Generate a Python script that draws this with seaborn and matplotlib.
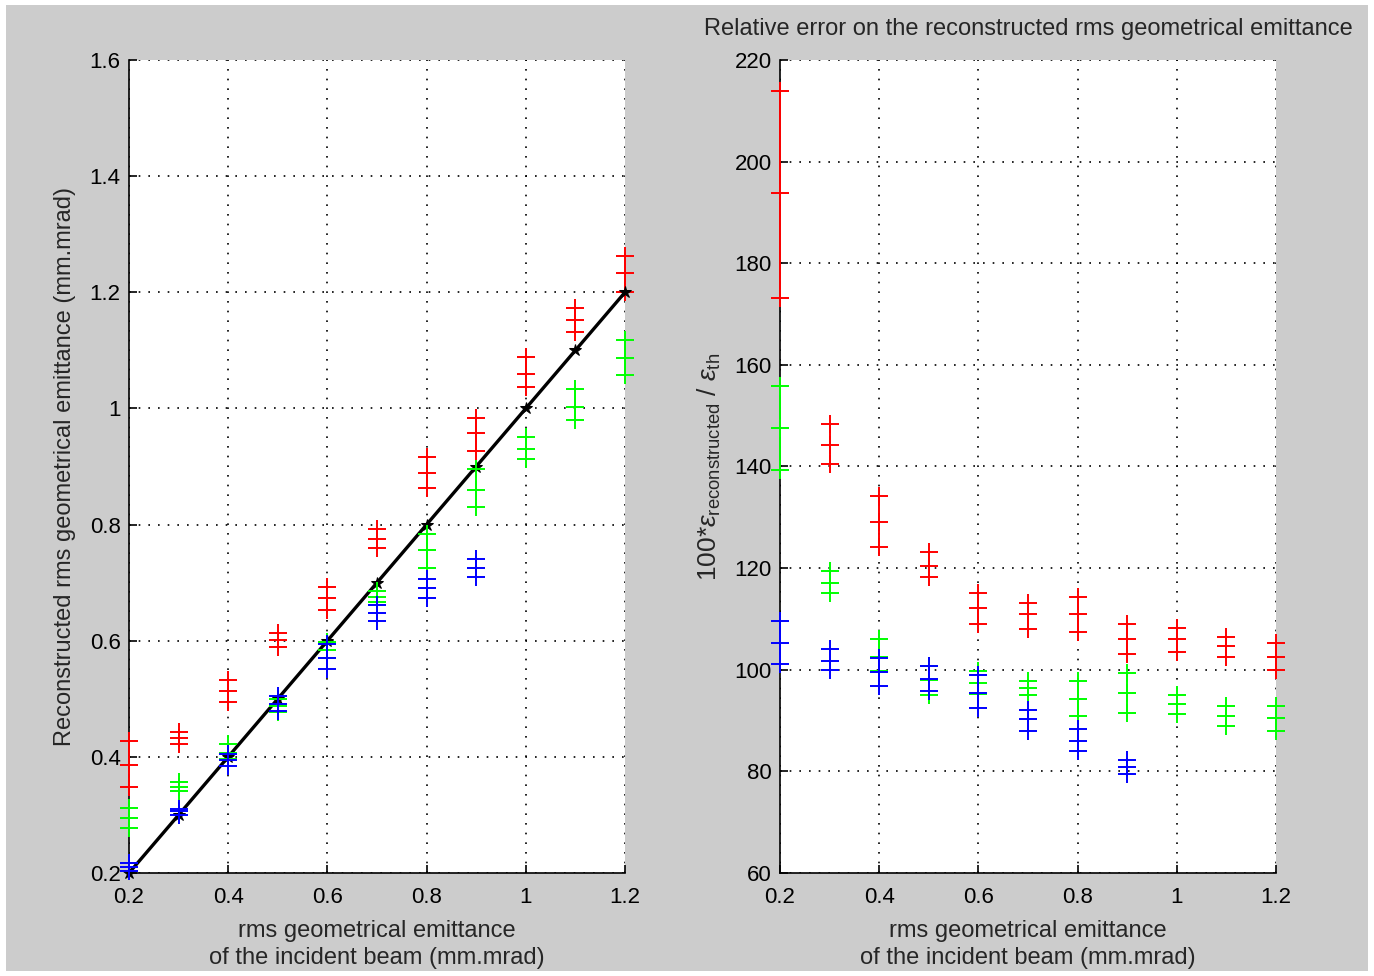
import numpy as np
import pandas as pd
import matplotlib.pyplot as plt
from matplotlib.patches import Rectangle
from matplotlib.ticker import FuncFormatter
import seaborn as sns

sns.set_style('white')
plt.rcParams['font.family'] = ['Liberation Sans', 'DejaVu Sans']
plt.rcParams['mathtext.fontset'] = 'custom'
plt.rcParams['mathtext.rm'] = 'Liberation Sans'
plt.rcParams['mathtext.it'] = 'Liberation Sans:italic'

# incident beam rms emittance (mm.mrad)
x_all = [0.2, 0.3, 0.4, 0.5, 0.6, 0.7, 0.8, 0.9, 1.0, 1.1, 1.2]
x_blue = [0.2, 0.3, 0.4, 0.5, 0.6, 0.7, 0.8, 0.9]

# reconstructed emittance (low / mid / high)
red_lo = [0.348, 0.422, 0.494, 0.590, 0.653, 0.759, 0.863, 0.927, 1.037, 1.132, 1.200]
red_mid = [0.386, 0.432, 0.513, 0.601, 0.673, 0.776, 0.889, 0.957, 1.060, 1.153, 1.233]
red_hi = [0.428, 0.442, 0.533, 0.613, 0.692, 0.793, 0.916, 0.984, 1.088, 1.173, 1.263]
green_lo = [0.277, 0.341, 0.396, 0.477, 0.571, 0.666, 0.726, 0.830, 0.913, 0.980, 1.057]
green_mid = [0.295, 0.348, 0.407, 0.488, 0.584, 0.676, 0.756, 0.860, 0.930, 1.003, 1.087]
green_hi = [0.312, 0.356, 0.422, 0.500, 0.597, 0.686, 0.784, 0.895, 0.951, 1.033, 1.117]
blue_lo = [0.204, 0.300, 0.384, 0.479, 0.552, 0.634, 0.674, 0.709]
blue_mid = [0.211, 0.306, 0.394, 0.491, 0.571, 0.648, 0.690, 0.726]
blue_hi = [0.218, 0.311, 0.405, 0.505, 0.594, 0.662, 0.706, 0.740]

# relative error (%)
rel_red_lo = [173.2, 140.4, 124.2, 118.2, 109.0, 108.0, 107.5, 103.1, 103.4, 102.6, 100.0]
rel_red_mid = [193.8, 144.2, 129.1, 120.4, 112.1, 110.9, 110.9, 106.0, 106.0, 104.6, 102.6]
rel_red_hi = [213.9, 148.4, 134.1, 123.2, 115.1, 113.2, 114.3, 109.1, 108.3, 106.4, 105.2]
rel_green_lo = [139.3, 115.1, 99.7, 95.1, 95.3, 95.1, 90.9, 91.4, 91.3, 88.9, 88.0]
rel_green_mid = [147.6, 117.0, 102.5, 97.9, 97.4, 96.5, 94.3, 95.4, 93.2, 90.9, 90.6]
rel_green_hi = [155.9, 119.4, 106.0, 100.8, 99.7, 97.8, 97.8, 99.3, 95.1, 92.8, 92.8]
rel_blue_lo = [101.2, 100.0, 96.9, 95.8, 92.5, 88.0, 84.1, 79.4]
rel_blue_mid = [105.3, 101.8, 99.6, 98.1, 95.4, 90.3, 86.0, 80.8]
rel_blue_hi = [109.5, 104.1, 102.3, 100.7, 98.9, 92.1, 88.3, 82.2]

left_yticks = [0.2, 0.4, 0.6, 0.8, 1.0, 1.2, 1.4, 1.6]
right_yticks = [60, 80, 100, 120, 140, 160, 180, 200, 220]
xticks = [0.2, 0.4, 0.6, 0.8, 1.0, 1.2]

FS = 17
TS = 16
fig = plt.figure(figsize=(13.74, 9.76), dpi=100, facecolor='white')
fig.patches.append(Rectangle((6 / 1374, 5 / 976), 1362 / 1374, 966 / 976,
                             transform=fig.transFigure, facecolor='#cccccc',
                             edgecolor='none', zorder=-10))

ax1 = fig.add_axes([129 / 1374, 1 - 873 / 976, 496 / 1374, 813 / 976])
ax2 = fig.add_axes([780 / 1374, 1 - 873 / 976, 496 / 1374, 813 / 976])


def draw_series(ax, x, lo, mid, hi, color, z):
    df = pd.DataFrame({'x': list(x) * 3, 'y': list(lo) + list(mid) + list(hi)})
    ax.vlines(x, lo, hi, color=color, lw=1.4, zorder=z, clip_on=False)
    sns.scatterplot(data=df, x='x', y='y', marker='+', s=150, color=color,
                    linewidth=1.4, ax=ax, zorder=z, legend=False, clip_on=False)


# left panel
draw_series(ax1, x_all, red_lo, red_mid, red_hi, '#ff0000', 3)
sns.lineplot(x=x_all, y=x_all, color='black', lw=2.4, marker='*', markersize=9,
             markeredgecolor='black', ax=ax1, zorder=4, clip_on=False)
draw_series(ax1, x_all, green_lo, green_mid, green_hi, '#00ff00', 5)
draw_series(ax1, x_blue, blue_lo, blue_mid, blue_hi, '#0000ff', 6)
ax1.set_ylim(0.2, 1.6)
ax1.set_yticks(left_yticks)
ax1.set_ylabel('Reconstructed rms geometrical emittance (mm.mrad)', fontsize=FS, labelpad=10)

# right panel
draw_series(ax2, x_all, rel_red_lo, rel_red_mid, rel_red_hi, '#ff0000', 3)
draw_series(ax2, x_all, rel_green_lo, rel_green_mid, rel_green_hi, '#00ff00', 4)
draw_series(ax2, x_blue, rel_blue_lo, rel_blue_mid, rel_blue_hi, '#0000ff', 5)
ax2.set_ylim(60, 220)
ax2.set_yticks(right_yticks)
ax2.set_ylabel(r'100*$\epsilon_{\rm reconstructed}$ / $\epsilon_{\rm th}$', fontsize=19, labelpad=8)
ax2.set_title('Relative error on the reconstructed rms geometrical emittance',
              fontsize=FS, pad=18)

fmt = FuncFormatter(lambda v, p: '{:g}'.format(round(v, 2)))
for ax in (ax1, ax2):
    ax.set_facecolor('white')
    ax.set_xlim(0.2, 1.2)
    ax.set_xticks(xticks)
    ax.xaxis.set_major_formatter(fmt)
    ax.yaxis.set_major_formatter(fmt)
    ax.grid(True, color='black', lw=1.2, linestyle=(0, (1, 4.8)))
    ax.set_axisbelow(True)
    for s in ('top', 'right'):
        ax.spines[s].set_visible(False)
    for s in ('left', 'bottom'):
        ax.spines[s].set_color('black')
        ax.spines[s].set_linewidth(1.2)
    ax.tick_params(direction='in', length=6, width=1.2, labelsize=TS,
                   left=True, bottom=True, colors='black')
    ax.tick_params(axis='x', pad=10)
    ax.tick_params(axis='y', pad=6)
    ax.set_xlabel('rms geometrical emittance\nof the incident beam (mm.mrad)',
                  fontsize=FS, labelpad=9, linespacing=1.3)

fig.savefig('out.png', dpi=100, facecolor=fig.get_facecolor())
